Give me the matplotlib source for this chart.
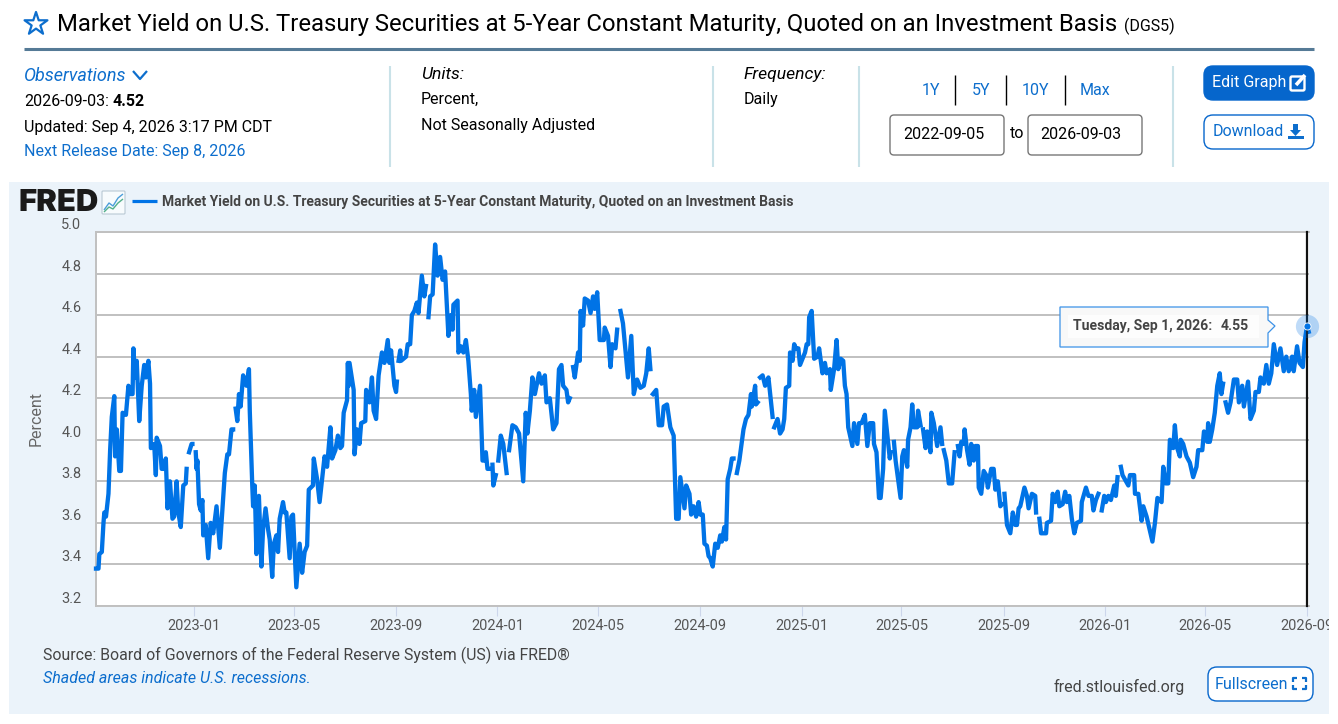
import numpy as np
import matplotlib
matplotlib.use("Agg")
import matplotlib.pyplot as plt
import matplotlib.dates as mdates
from matplotlib.patches import FancyBboxPatch, Rectangle, Polygon
from matplotlib.transforms import Bbox, TransformedBbox, IdentityTransform

NA = float("nan")
START = np.datetime64("2022-09-05")
END = np.datetime64("2026-09-03")

# days since START, and the yield in percent; NA marks a break in the line
DAYS = [
 0,3,4,7,9,10,12,15,17,19,22,23,25,28,30,32,36,39,41,44,45,47,49,52,55,58,60,63,65,66,
 70,72,73,77,79,82,84,86,89,92,94,97,99,102,105,108,109,110,112,115,116,118,
 120,121,122,124,126,128,129,132,135,138,141,145,149,152,155,158,160,163,165,166,
 168,170,172,174,177,181,184,185,188,189,191,193,196,199,201,204,207,209,212,214,217,219,221,225,227,229,
 233,235,237,241,245,248,251,254,256,261,262,266,269,272,275,278,282,284,288,291,294,296,298,302,
 303,304,305,310,311,314,317,319,324,325,329,332,334,337,340,344,347,351,353,355,359,361,362,363,
 364,366,367,373,375,378,380,383,386,388,392,395,397,398,
 400,402,405,408,411,414,417,420,424,427,429,430,435,436,439,442,445,448,451,452,455,457,462,465,467,469,471,473,475,
 477,478,481,482,484,487,490,494,495,
 497,501,505,509,514,517,519,522,525,528,533,536,540,542,546,550,554,557,560,562,566,568,570,572,
 574,576,580,582,583,586,588,592,595,598,600,603,606,611,612,616,619,621,625,627,629,
 631,634,640,644,647,651,655,659,662,665,667,668,
 670,674,677,681,683,687,691,695,698,701,703,708,710,714,716,719,722,725,727,730,732,735,737,
 739,742,745,748,751,753,756,758,760,763,765,767,769,
 771,774,779,782,785,788,789,793,794,796,797,
 799,802,805,809,814,815,
 816,820,823,826,828,830,834,835,838,840,842,845,847,850,853,855,857,858,861,864,868,870,874,877,879,883,884,888,
 891,893,896,899,901,903,905,910,912,916,918,921,925,928,931,935,936,939,942,944,947,949,955,956,958,
 960,962,968,970,972,976,977,980,982,984,988,989,992,993,
 995,998,1000,1004,1005,1008,1012,1016,1018,1019,
 1020,1023,1026,1030,1033,1035,
 1037,1039,1041,1044,1045,1048,1051,1053,1056,1058,1061,1062,1065,1068,1071,1073,1077,1080,1082,1085,1088,1090,1091,
 1093,1096,1100,1103,1106,1108,1110,1112,1117,1120,1122,1126,1130,1131,1133,
 1135,1137,1143,1144,1149,1151,1154,1157,1159,1163,1166,1168,1171,1174,1177,1180,1185,1186,1191,1194,1198,1200,1203,1206,1208,
 1210,1213,1215,1218,1221,1225,1227,1229,1231,
 1233,1235,1242,1244,1249,1250,1254,1258,1260,1264,1271,1274,1277,1282,1284,1287,1290,1292,1296,1298,1300,1304,1305,1308,
 1312,1316,1320,1324,1326,1331,1333,1337,1338,1340,1343,1346,1349,1352,1354,1356,1358,
 1359,1362,1365,1369,1373,1375,1379,1381,1386,1389,1393,1395,1399,1401,1405,1408,1411,1414,1417,1421,1425,1429,1432,1435,
 1439,1441,1445,1448,1452,1454,1457,1459,
]
YIELDS = [
 3.38,3.38,3.45,3.46,3.60,3.65,3.63,3.74,3.95,4.11,4.21,3.92,4.05,3.85,3.85,4.13,4.12,4.26,4.22,4.22,4.44,4.30,4.38,4.09,4.26,4.36,4.30,4.38,4.27,3.96,
 3.98,3.83,4.01,3.97,3.86,3.86,3.91,3.67,3.80,3.62,3.63,3.80,3.65,3.58,3.78,3.79,3.86,NA,3.94,3.98,3.98,NA,
 3.94,3.86,3.90,3.69,3.66,3.71,3.54,3.59,3.43,3.60,3.55,3.68,3.48,3.66,3.84,3.93,3.93,4.05,4.05,NA,
 4.15,4.09,4.22,4.16,4.31,4.26,4.34,4.14,3.78,3.68,3.78,3.45,3.73,3.39,3.57,3.67,3.57,3.52,3.34,3.50,3.54,3.46,3.62,3.70,3.65,3.65,
 3.43,3.63,3.64,3.29,3.50,3.36,3.46,3.49,3.76,3.78,3.91,3.81,3.70,3.81,3.92,3.87,4.06,3.91,3.95,4.02,3.96,3.97,4.13,4.19,
 4.37,4.26,4.37,4.24,3.93,4.05,3.98,4.08,4.09,4.24,4.18,4.30,4.14,4.10,4.31,4.42,4.37,4.48,4.37,4.43,4.26,4.23,4.28,NA,
 4.38,4.43,4.38,4.40,4.46,4.46,4.60,4.62,4.66,4.61,4.79,4.69,4.74,NA,
 4.59,4.69,4.70,4.94,4.79,4.88,4.77,4.81,4.50,4.60,4.53,4.65,4.67,4.42,4.45,4.42,4.48,4.38,4.22,4.14,4.24,4.11,4.26,3.90,3.90,3.94,3.86,3.86,NA,
 3.88,3.78,3.83,NA,3.90,4.02,3.98,3.84,NA,
 3.95,4.07,4.06,4.03,3.80,4.13,4.03,4.14,4.30,4.22,4.32,4.27,4.31,4.18,4.20,4.05,4.08,4.34,4.36,4.26,4.24,4.18,4.20,NA,
 4.35,4.30,4.42,4.38,4.62,4.55,4.68,4.67,4.61,4.69,4.63,4.71,4.48,4.48,4.54,4.50,4.35,4.46,4.44,4.53,NA,
 4.62,4.56,4.30,4.50,4.22,4.29,4.25,4.26,4.32,4.44,4.34,NA,
 4.22,4.24,4.07,4.07,4.16,4.17,4.06,4.02,3.62,3.62,3.82,3.67,3.78,3.74,3.64,3.68,3.63,3.70,3.64,3.64,3.50,3.49,3.44,
 3.43,3.39,3.50,3.48,3.54,3.51,3.58,3.52,3.81,3.86,3.91,3.91,NA,
 3.84,3.90,4.05,4.10,4.12,4.22,4.16,4.26,4.17,4.18,NA,
 4.30,4.31,4.26,4.30,4.11,NA,
 4.06,4.10,4.03,4.05,4.10,4.25,4.26,4.42,4.38,4.46,4.44,4.44,4.36,4.39,4.42,4.46,4.46,4.59,4.62,4.39,4.40,4.44,4.32,4.37,4.32,4.34,4.24,4.34,
 4.48,4.34,4.39,4.38,4.26,4.22,4.06,3.97,4.08,3.98,4.08,4.08,4.12,3.97,4.08,4.08,3.98,3.94,3.72,3.72,3.86,4.14,3.91,3.94,NA,
 3.99,3.90,3.72,3.92,3.95,3.87,4.00,4.06,4.17,4.06,4.06,4.14,4.07,NA,
 4.05,3.96,4.04,3.94,4.13,4.08,3.97,4.06,3.98,NA,
 3.95,3.90,3.79,3.79,3.94,NA,
 3.97,3.92,3.99,3.98,4.05,3.95,3.88,3.98,3.90,3.97,3.97,3.77,3.74,3.85,3.83,3.77,3.86,3.86,3.76,3.80,3.68,3.69,NA,
 3.74,3.59,3.55,3.65,3.59,3.59,3.67,3.68,3.77,3.73,3.67,3.74,3.73,3.65,NA,
 3.62,3.55,3.55,3.60,3.61,3.74,3.70,3.75,3.68,3.69,3.75,3.70,3.73,3.62,3.55,3.60,3.61,3.70,3.77,3.73,3.73,3.66,3.71,3.74,NA,
 3.66,3.73,3.70,3.73,3.71,3.78,3.73,3.82,NA,
 3.87,3.83,3.78,3.83,3.83,3.74,3.74,3.61,3.68,3.63,3.51,3.60,3.72,3.70,3.87,3.79,3.79,4.00,3.96,4.07,3.97,3.92,4.00,3.98,
 3.92,3.89,3.82,3.87,3.95,3.95,4.04,3.99,4.08,3.99,4.05,4.13,4.26,4.32,4.22,4.27,NA,
 4.18,4.13,4.18,4.29,4.29,4.18,4.26,4.16,4.28,4.10,4.14,4.23,4.23,4.30,4.27,4.36,4.27,4.32,4.46,4.36,4.44,4.33,4.40,4.33,
 4.40,4.33,4.45,4.37,4.35,4.47,4.55,4.52,
]
Y_TICKS = [3.2, 3.4, 3.6, 3.8, 4.0, 4.2, 4.4, 4.6, 4.8, 5.0]
X_TICKS = ["2023-01-01","2023-05-01","2023-09-01","2024-01-01","2024-05-01","2024-09-01",
           "2025-01-01","2025-05-01","2025-09-01","2026-01-01","2026-05-01","2026-09-01"]
HOVER_DATE = "2026-09-01"
HOVER_VALUE = 4.55
SERIES = "Market Yield on U.S. Treasury Securities at 5-Year Constant Maturity, Quoted on an Investment Basis"

BLUE = "#0073e6"
LINK = "#0d6ecd"
FONT = "Roboto"
W, H = 1338, 724
plt.rcParams["font.family"] = [FONT, "DejaVu Sans"]
px = lambda p: p * 0.72

fig = plt.figure(figsize=(W / 100, H / 100), dpi=100, facecolor="white")
bg = fig.add_axes([0, 0, 1, 1], zorder=0)
bg.set_xlim(0, W); bg.set_ylim(H, 0); bg.axis("off")

def T(x, y, s, size=16, color="black", ha="left", va="center", **k):
    return bg.text(x, y + 1.7, s, fontsize=px(size), color=color, ha=ha, va=va, **k)

def box(x0, y0, x1, y1, r, fc, ec, lw=1.0, z=1):
    bg.add_patch(FancyBboxPatch((x0 + r, y0 + r), x1 - x0 - 2 * r, y1 - y0 - 2 * r,
                                boxstyle=f"round,pad={r}", fc=fc, ec=ec, lw=lw, zorder=z))

def L(xs, ys, color, lw=1.0, z=3):
    bg.plot(xs, ys, color=color, lw=lw, zorder=z, solid_capstyle="butt")

# header
bg.scatter([36], [24], marker="*", s=300, facecolor="none", edgecolor="#0d6ecd", linewidth=1.6, zorder=3)
T(57, 23, SERIES, 23.85)
T(1124, 25, "(DGS5)", 16)
L([24, 1314], [49, 49], "#557a96", 2.2)

T(24, 74, "Observations", 18, LINK, style="italic")
L([133, 140, 147], [71, 79, 71], LINK, 1.6)
T(24, 100, "2026-09-03:", 16)
T(113, 100, "4.52", 16, fontweight="bold")
T(24, 126, "Updated: Sep 4, 2026 3:17 PM CDT", 16)
T(24, 150, "Next Release Date: Sep 8, 2026", 16, LINK)
for x in [390, 713, 859, 1173]:
    L([x, x], [66, 167], "#c9e2e8", 1.5)
T(421, 73, "Units:", 17.5, style="italic")
T(421, 98, "Percent,", 16)
T(421, 124, "Not Seasonally Adjusted", 16)
T(744, 73, "Frequency:", 17.5, style="italic")
T(744, 98, "Daily", 16)
for x, s in zip([931, 981, 1035, 1095], ["1Y", "5Y", "10Y", "Max"]):
    T(x, 88.5, s, 16, LINK, ha="center")
for x in [955, 1006, 1065]:
    L([x, x], [75, 105], "black", 1.0)
box(890, 115, 1004, 155, 4, "white", "#777777")
box(1028, 115, 1142, 155, 4, "white", "#777777")
T(944, 133, "2022-09-05", 16, ha="center", zorder=4)
T(1017, 132, "to", 16, ha="center")
T(1081, 133, "2026-09-03", 16, ha="center", zorder=4)
box(1204, 66, 1314, 100, 9, "#0666cc", "#0666cc")
T(1212, 81, "Edit Graph", 16, "white", zorder=4)
bg.add_patch(FancyBboxPatch((1292, 78), 11, 11, boxstyle="round,pad=1.5", fc="none", ec="white", lw=1.7, zorder=4))
L([1296, 1305], [85, 75], "white", 2.6, 5)
box(1204, 115, 1314, 149, 9, "white", "#0666cc")
T(1213, 130, "Download", 16, LINK, zorder=4)
bg.add_patch(Polygon([[1293, 124], [1298, 124], [1298, 130], [1301, 130], [1295.5, 136], [1290, 130], [1293, 130]], fc=LINK, zorder=4))
bg.add_patch(Rectangle((1288, 136), 16, 3, fc=LINK, zorder=4))

# chart panel
bg.add_patch(Rectangle((9, 182), 1320, 532, fc="#ebf3fa", ec="none", zorder=0))
T(18, 201, "FRED", 31, "#1a1a1a", fontweight="black", family="Inter")
box(102, 191, 125, 214, 1, "#f7fbfd", "#b9c9d4", 0.8)
L([104, 109, 113, 118, 123], [210, 203, 206, 198, 194], "#4c9ed9", 1.0, 4)
L([104, 109, 113, 118, 123], [212, 207, 209, 203, 199], "#54b08a", 1.0, 4)
L([132, 157], [201, 201], BLUE, 2.3)
T(162, 200, SERIES, 13.9, "#444444", fontweight="bold")
T(36, 417, "Percent", 16, "#666666", ha="center", rotation=90)
T(43, 654, "Source: Board of Governors of the Federal Reserve System (US) via FRED\u00ae", 15.95, "#444444")
T(43, 677, "Shaded areas indicate U.S. recessions.", 16, LINK, style="italic")
T(1054, 685, "fred.stlouisfed.org", 16, "#444444")
box(1208, 667, 1313, 701, 9, "white", "#0666cc")
T(1215, 682.5, "Fullscreen", 16, LINK, zorder=4)
for cx, cy, dx, dy in [(1293, 678, 1, 1), (1306, 678, -1, 1), (1293, 689, 1, -1), (1306, 689, -1, -1)]:
    L([cx, cx, cx + 4 * dx], [cy + 4 * dy, cy, cy], LINK, 1.6, 4)

# line chart
AX_L, AX_R, AX_T, AX_B = 96, 1308.7, 232, 606
ax = fig.add_axes([AX_L / W, 1 - AX_B / H, (AX_R - AX_L) / W, (AX_B - AX_T) / H], zorder=2, facecolor="white")
dates = START + np.array(DAYS, dtype="timedelta64[D]")
ax.plot(dates, np.array(YIELDS), color=BLUE, lw=3.1, solid_joinstyle="round", zorder=3, clip_on=False)
ax.set_xlim(START, END)
ax.set_ylim(Y_TICKS[0], Y_TICKS[-1])
ax.set_yticks(Y_TICKS)
ax.set_yticklabels([f"{v:.1f}" for v in Y_TICKS])
ax.grid(axis="y", color="#c0c0c0", lw=1.4, zorder=1)
ax.tick_params(axis="y", length=0, pad=10.5, labelsize=px(14.5), labelcolor="#555555")
for lab in ax.get_yticklabels():
    lab.set_verticalalignment("bottom")
ax.set_xticks(np.array(X_TICKS, dtype="datetime64[D]"))
ax.xaxis.set_major_formatter(mdates.DateFormatter("%Y-%m"))
ax.tick_params(axis="x", length=7.5, width=0.8, color="#ccd6eb", pad=2, labelsize=px(14.5), labelcolor="#555555")
clip = TransformedBbox(Bbox([[0, 0], [1329, H]]), IdentityTransform())
for lab in ax.get_xticklabels():
    lab.set_clip_on(True)
    lab.set_clip_box(clip)
for s in ["top", "left", "bottom"]:
    ax.spines[s].set_color("#c0c0c0"); ax.spines[s].set_linewidth(1.4)
ax.spines["right"].set_visible(False)

# hover crosshair, marker and tooltip
hover = np.datetime64(HOVER_DATE)
ax.axvline(hover, color="#111111", lw=1.6, zorder=4, clip_on=False)
ax.scatter([hover], [HOVER_VALUE], s=280, color=BLUE, alpha=0.25, linewidth=0, zorder=5, clip_on=False)
ax.scatter([hover], [HOVER_VALUE], s=26, color=BLUE, edgecolor="white", linewidth=0.6, zorder=6, clip_on=False)

fg = fig.add_axes([0, 0, 1, 1], zorder=3)
fg.set_xlim(0, W); fg.set_ylim(H, 0); fg.axis("off"); fg.patch.set_alpha(0)
fg.add_patch(Polygon([[1060, 307], [1268, 307], [1268, 320], [1275, 326], [1268, 333], [1268, 347], [1060, 347]],
                     closed=True, fc="#f8f8f8", ec="#3c92e8", lw=0.9, zorder=2))
fg.add_patch(Rectangle((1068, 315), 191, 23, fc="white", ec="none", alpha=0.75, zorder=3))
fg.text(1073, 326, "Tuesday, Sep 1, 2026:", fontsize=px(14), color="#444444", fontweight="bold", ha="left", va="center", zorder=4)
fg.text(1221, 326, f"{HOVER_VALUE:.2f}", fontsize=px(14), color="#444444", fontweight="bold", ha="left", va="center", zorder=4)

fig.savefig("out.png", dpi=100)
assert len(DAYS) == len(YIELDS), (len(DAYS), len(YIELDS))
